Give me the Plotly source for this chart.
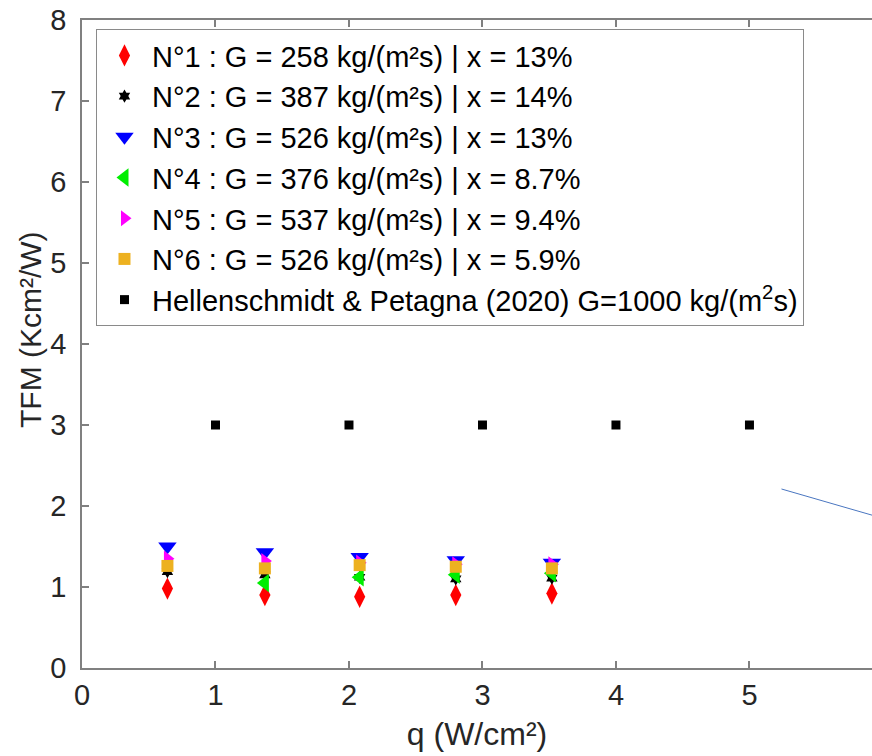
import plotly.graph_objects as go

q = [0.64, 1.37, 2.08, 2.80, 3.52]
tfm1 = [0.98, 0.90, 0.88, 0.90, 0.92]
tfm2 = [1.19, 1.15, 1.12, 1.10, 1.11]
tfm3 = [1.50, 1.43, 1.37, 1.33, 1.30]
tfm4 = [None, 1.05, 1.12, 1.15, 1.17]
tfm5 = [1.35, 1.32, 1.30, 1.28, 1.28]
tfm6 = [1.26, 1.23, 1.27, 1.25, 1.23]
q_ref = [1, 2, 3, 4, 5]
tfm_ref = [3, 3, 3, 3, 3]
line_x = [5.24, 6.5]
line_y = [2.21, 1.61]

names = [
    "N°1 : G = 258 kg/(m²s) | x = 13%",
    "N°2 : G = 387 kg/(m²s) | x = 14%",
    "N°3 : G = 526 kg/(m²s) | x = 13%",
    "N°4 : G = 376 kg/(m²s) | x = 8.7%",
    "N°5 : G = 537 kg/(m²s) | x = 9.4%",
    "N°6 : G = 526 kg/(m²s) | x = 5.9%",
    "Hellenschmidt & Petagna (2020) G=1000 kg/(m<sup>2</sup>s)",
]
series = [tfm1, tfm2, tfm3, tfm4, tfm5, tfm6]
styles = [
    ("diamond-tall", "#ff0000", 16),
    ("hexagram", "#000000", 10),
    ("triangle-down", "#0000ff", 16),
    ("triangle-left", "#00ee00", 16),
    ("triangle-right", "#ff00ff", 14),
    ("square", "#edb120", 12),
]

fig = go.Figure()
for i, (ys, (sym, col, sz)) in enumerate(zip(series, styles)):
    fig.add_trace(go.Scatter(x=q, y=ys, mode="markers", name=names[i],
                             legendgroup=f"g{i}",
                             marker=dict(symbol=sym, color=col, size=sz, line=dict(width=0))))
fig.add_trace(go.Scatter(x=q_ref, y=tfm_ref, mode="markers", name=names[6],
                         legendgroup="g6",
                         marker=dict(symbol="square", color="#000000", size=9, line=dict(width=0))))
fig.add_trace(go.Scatter(x=line_x, y=line_y, mode="lines", showlegend=False,
                         line=dict(color="#4a76c0", width=1)))

font_family = "Arial, Liberation Sans, sans-serif"
fig.update_layout(
    width=872, height=756,
    margin=dict(l=82, r=0, t=20, b=88),
    paper_bgcolor="white", plot_bgcolor="white",
    font=dict(family=font_family, color="#262626", size=24),
    showlegend=True,
    legend=dict(x=0.0177, y=0.986, xanchor="left", yanchor="top",
                bgcolor="white", bordercolor="#8a8a8a", borderwidth=1,
                font=dict(family=font_family, size=29, color="#000000"),
                tracegroupgap=0, itemsizing="trace", itemwidth=45),
    xaxis=dict(range=[0, 5.918], tickvals=[0, 1, 2, 3, 4, 5], showgrid=False, zeroline=False,
               showline=True, linecolor="#808080", linewidth=1.5, mirror="ticks",
               ticks="inside", ticklen=7, tickcolor="#808080", tickwidth=1.5,
               tickfont=dict(size=29, color="#262626"), ticklabelstandoff=0,
               title=dict(text="q (W/cm²)", standoff=13, font=dict(size=32, color="#262626"))),
    yaxis=dict(range=[0, 8], tickvals=[0, 1, 2, 3, 4, 5, 6, 7, 8], showgrid=False, zeroline=False,
               showline=True, linecolor="#808080", linewidth=1.5, mirror=False,
               ticks="inside", ticklen=7, tickcolor="#808080", tickwidth=1.5,
               tickfont=dict(size=29, color="#262626"), ticklabelstandoff=8),
    annotations=[dict(text="TFM (Kcm²/W)", textangle=-90, xref="paper", yref="paper",
                      x=0, y=0.5216, xanchor="center", yanchor="middle", xshift=-52,
                      showarrow=False, font=dict(family=font_family, size=30, color="#262626"))],
)

fig.write_html("out.html")
